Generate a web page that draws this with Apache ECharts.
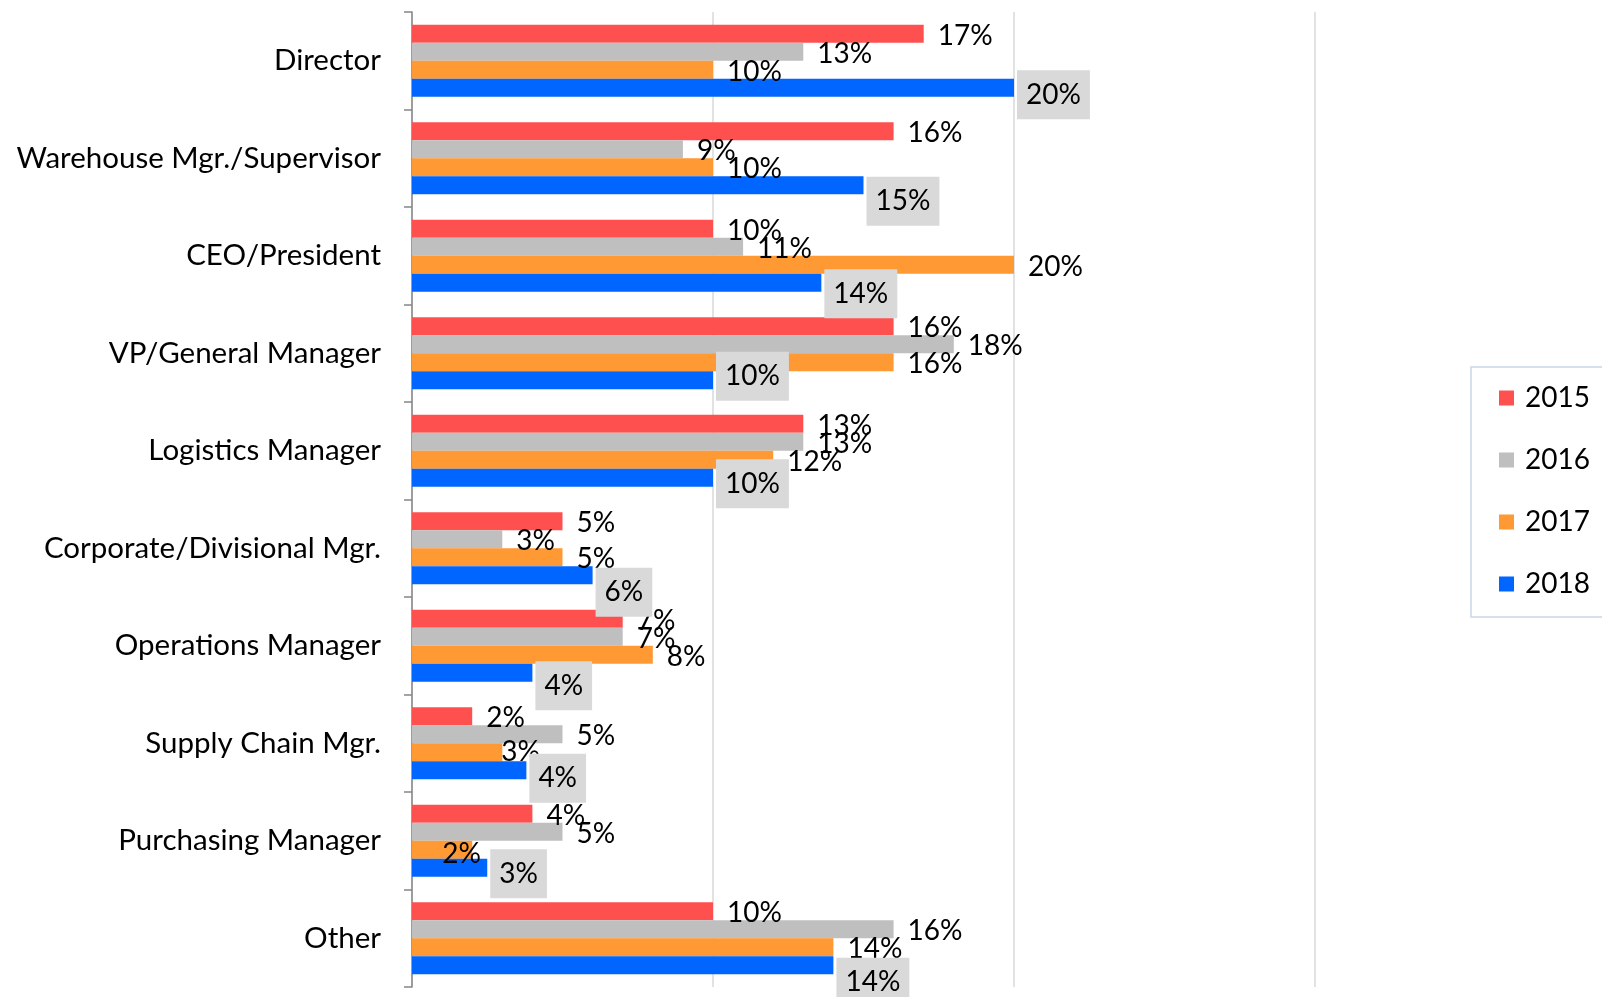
<!DOCTYPE html>
<html>
<head>
<meta charset="utf-8">
<script src="https://cdn.jsdelivr.net/npm/echarts@6/dist/echarts.min.js"></script>
<style>
html,body{margin:0;padding:0;background:#fff;}
#chart{width:1602px;height:997px;}
</style>
</head>
<body>
<div id="chart"></div>
<script>
const categories = ['Director','Warehouse Mgr./Supervisor','CEO/President','VP/General Manager','Logistics Manager','Corporate/Divisional Mgr.','Operations Manager','Supply Chain Mgr.','Purchasing Manager','Other'];
const years = ['2015','2016','2017','2018'];
const v2015 = [17, 16, 10, 16, 13, 5, 7, 2, 4, 10];
const v2016 = [13, 9, 11, 18, 13, 3, 7, 5, 5, 16];
const v2017 = [10, 10, 20, 16, 12, 5, 8, 3, 2, 14];
const v2018 = [20, 15, 13.6, 10, 10, 6, 4, 3.8, 2.5, 14];
const xTicks = [0, 10, 20, 30];

// ---- styling (not data) ----
const colors = ['#FF5050', '#BFBFBF', '#FF9933', '#0066FF'];
const FONT = 'Lato';
const FS = 28;
const CAT_FS = 29.5;
// vertical offsets of the 2018 label boxes, as placed in the original
const boxDy = [7, 16, 11, -4, 6, 17, 13, 8, 6, 17];
// a few manually moved 2017 labels: index -> [dx, dy]
const shift2017 = { 7: [-15, 0], 8: [-44, 4] };

const fmt = p => Math.round(p.value) + '%';
const plainLabel = {
  show: true, position: 'right', distance: 14, offset: [0, 2],
  formatter: fmt, fontFamily: FONT, fontSize: FS, color: '#000'
};
const boxLabel = {
  show: true, position: 'right', distance: 3, offset: [0, 7],
  formatter: fmt, fontFamily: FONT, fontSize: FS, color: '#000',
  backgroundColor: '#D9D9D9', padding: [11, 9, 10, 9]
};

const seriesData = [v2015, v2016, v2017, v2018];
const series = years.map((y, i) => ({
  name: y,
  type: 'bar',
  data: seriesData[i].map((v, j) => {
    if (i === 3) return { value: v, label: { offset: [0, boxDy[j]] } };
    if (i === 2 && shift2017[j]) return { value: v, label: { offset: shift2017[j] } };
    return v;
  }),
  itemStyle: { color: colors[i] },
  barGap: '0%',
  barCategoryGap: '26%',
  label: i === 3 ? boxLabel : plainLabel
}));

const chart = echarts.init(document.getElementById('chart'), null, { renderer: 'canvas' });
chart.setOption({
  animation: false,
  backgroundColor: '#fff',
  textStyle: { fontFamily: FONT },
  grid: { left: 412, right: 287, top: 12, bottom: 10, containLabel: false },
  legend: {
    orient: 'vertical',
    left: 1471, top: 367,
    data: years,
    icon: 'rect',
    itemWidth: 15, itemHeight: 15,
    itemGap: 34,
    padding: [17, 40, 19, 28],
    borderColor: '#C9D5E8', borderWidth: 1.5,
    textStyle: { fontFamily: FONT, fontSize: FS, color: '#000', lineHeight: 28, padding: [0, 0, 0, 6] }
  },
  xAxis: {
    type: 'value',
    min: xTicks[0], max: xTicks[xTicks.length - 1], interval: 10,
    axisLabel: { show: false },
    axisLine: { show: false },
    axisTick: { show: false },
    splitLine: { show: true, lineStyle: { color: '#D9D9D9', width: 1.5 } }
  },
  yAxis: {
    type: 'category',
    inverse: true,
    data: categories,
    axisLine: { show: true, lineStyle: { color: '#868686', width: 1.5 } },
    axisTick: { show: true, length: 8, lineStyle: { color: '#868686', width: 1.5 } },
    axisLabel: { margin: 31, fontFamily: FONT, fontSize: CAT_FS, color: '#000' }
  },
  series: series
});
</script>
</body>
</html>
